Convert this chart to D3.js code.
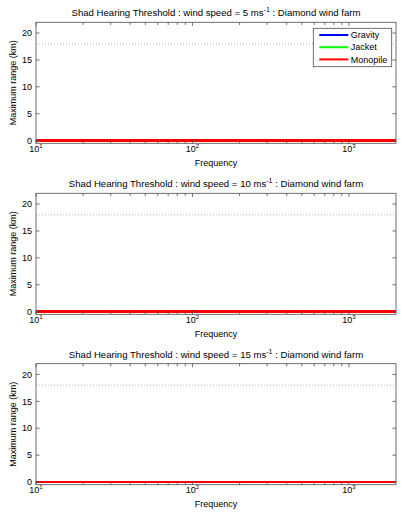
<!DOCTYPE html>
<html>
<head>
<meta charset="utf-8">
<script src="https://cdn.jsdelivr.net/npm/d3@7"></script>
<style>
  body { margin: 0; background: #fff; }
  svg { display: block; font-family: "Liberation Sans", Arial, sans-serif; }
</style>
</head>
<body>
<svg id="chart" width="405" height="521"></svg>
<script>
// third-octave band centres (Hz)
var freqs = [10, 12.5, 16, 20, 25, 31.5, 40, 50, 63, 80, 100, 125, 160, 200, 250, 315, 400, 500, 630, 800, 1000, 1250, 1600, 2000];
var windSpeeds = [5, 10, 15];
var seriesNames = ["Gravity", "Jacket", "Monopile"];
var seriesColors = ["#0000ff", "#00ff00", "#ff0000"];
// maximum range (km) per panel and series - all zero in the figure
var gravity = [
  [0, 0, 0, 0, 0, 0, 0, 0, 0, 0, 0, 0, 0, 0, 0, 0, 0, 0, 0, 0, 0, 0, 0, 0],
  [0, 0, 0, 0, 0, 0, 0, 0, 0, 0, 0, 0, 0, 0, 0, 0, 0, 0, 0, 0, 0, 0, 0, 0],
  [0, 0, 0, 0, 0, 0, 0, 0, 0, 0, 0, 0, 0, 0, 0, 0, 0, 0, 0, 0, 0, 0, 0, 0]
];
var jacket = [
  [0, 0, 0, 0, 0, 0, 0, 0, 0, 0, 0, 0, 0, 0, 0, 0, 0, 0, 0, 0, 0, 0, 0, 0],
  [0, 0, 0, 0, 0, 0, 0, 0, 0, 0, 0, 0, 0, 0, 0, 0, 0, 0, 0, 0, 0, 0, 0, 0],
  [0, 0, 0, 0, 0, 0, 0, 0, 0, 0, 0, 0, 0, 0, 0, 0, 0, 0, 0, 0, 0, 0, 0, 0]
];
var monopile = [
  [0, 0, 0, 0, 0, 0, 0, 0, 0, 0, 0, 0, 0, 0, 0, 0, 0, 0, 0, 0, 0, 0, 0, 0],
  [0, 0, 0, 0, 0, 0, 0, 0, 0, 0, 0, 0, 0, 0, 0, 0, 0, 0, 0, 0, 0, 0, 0, 0],
  [0, 0, 0, 0, 0, 0, 0, 0, 0, 0, 0, 0, 0, 0, 0, 0, 0, 0, 0, 0, 0, 0, 0, 0]
];
var farLimit = 18; // dotted reference line (km)
var yTicks = [0, 5, 10, 15, 20];
var xMajor = [10, 100, 1000];
var xMinor = [20, 30, 40, 50, 60, 70, 80, 90, 200, 300, 400, 500, 600, 700, 800, 900];

var svg = d3.select("#chart");
var left = 36, right = 396, h = 121;
var panelTops = [22.3, 193.3, 363.7];
var axisColor = "#4d4d4d";

var x = d3.scaleLog().domain([10, 2000]).range([left, right]);

panelTops.forEach(function(top, p) {
  var y = d3.scaleLinear().domain([-0.5, 22]).range([top + h, top]);
  var g = svg.append("g");

  // title
  var t = g.append("text").attr("x", (left + right) / 2).attr("y", top - 6)
    .attr("text-anchor", "middle").attr("font-size", 9.6).attr("fill", "#000");
  t.append("tspan").text("Shad Hearing Threshold : wind speed = " + windSpeeds[p] + " ms");
  t.append("tspan").attr("dy", -4).attr("font-size", 7).text("-1");
  t.append("tspan").attr("dy", 4).text(" : Diamond wind farm");

  // dotted reference line
  g.append("line").attr("x1", left).attr("x2", right)
    .attr("y1", y(farLimit)).attr("y2", y(farLimit))
    .attr("stroke", "#aaa").attr("stroke-width", 0.8).attr("stroke-dasharray", "1,2");

  // series (drawn in order, monopile on top)
  var line = d3.line().x(function(d, i) { return x(freqs[i]); }).y(function(d) { return y(d); });
  [gravity[p], jacket[p], monopile[p]].forEach(function(vals, s) {
    g.append("path").datum(vals).attr("d", line).attr("fill", "none")
      .attr("stroke", seriesColors[s]).attr("stroke-width", 2.6)
      .attr("shape-rendering", "crispEdges");
  });

  // ticks, inside on all four sides
  var tk = g.append("g").attr("stroke", axisColor).attr("stroke-width", 0.8);
  xMajor.concat(xMinor).forEach(function(f) {
    var len = xMajor.indexOf(f) >= 0 ? 3.6 : 2.6;
    tk.append("line").attr("x1", x(f)).attr("x2", x(f)).attr("y1", top + h).attr("y2", top + h - len);
    tk.append("line").attr("x1", x(f)).attr("x2", x(f)).attr("y1", top).attr("y2", top + len);
  });
  yTicks.forEach(function(v) {
    tk.append("line").attr("x1", left).attr("x2", left + 3.6).attr("y1", y(v)).attr("y2", y(v));
    tk.append("line").attr("x1", right).attr("x2", right - 3.6).attr("y1", y(v)).attr("y2", y(v));
  });

  // box
  g.append("rect").attr("x", left).attr("y", top).attr("width", right - left).attr("height", h)
    .attr("fill", "none").attr("stroke", axisColor).attr("stroke-width", 0.8);

  // y tick labels
  g.selectAll(".yl").data(yTicks).enter().append("text")
    .attr("x", left - 4).attr("y", function(d) { return y(d) + 3.2; })
    .attr("text-anchor", "end").attr("font-size", 9).text(function(d) { return d; });

  // x tick labels 10^n
  xMajor.forEach(function(f) {
    var lt = g.append("text").attr("x", x(f)).attr("y", top + h + 6.5 + 2.2)
      .attr("text-anchor", "middle").attr("font-size", 9);
    lt.append("tspan").text("10");
    lt.append("tspan").attr("dy", -4).attr("font-size", 6).text(Math.round(Math.log10(f)));
  });

  // axis labels
  g.append("text").attr("x", (left + right) / 2).attr("y", top + h + 22.5)
    .attr("text-anchor", "middle").attr("font-size", 9).text("Frequency");
  g.append("text").attr("transform", "translate(16," + (top + h / 2) + ") rotate(-90)")
    .attr("text-anchor", "middle").attr("font-size", 9).text("Maximum range (km)");

  // legend on first panel only
  if (p === 0) {
    var lg = g.append("g").attr("transform", "translate(313.3," + (top + 6) + ")");
    lg.append("rect").attr("width", 78.4).attr("height", 38.4)
      .attr("fill", "#fff").attr("stroke", axisColor).attr("stroke-width", 0.8);
    seriesNames.forEach(function(n, i) {
      var yy = 6.7 + i * 12.2;
      lg.append("line").attr("x1", 6).attr("x2", 35).attr("y1", yy).attr("y2", yy)
        .attr("stroke", seriesColors[i]).attr("stroke-width", 2);
      lg.append("text").attr("x", 37.4).attr("y", yy + 3.2).attr("font-size", 9).text(n);
    });
  }
});
</script>
</body>
</html>
